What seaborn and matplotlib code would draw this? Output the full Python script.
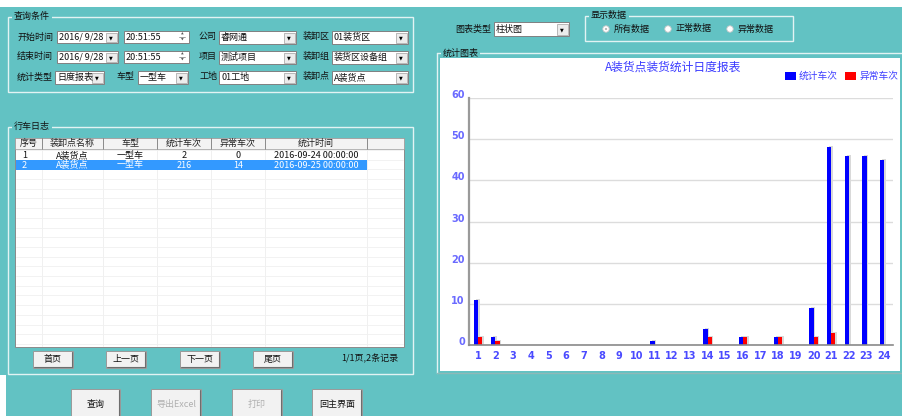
import matplotlib
matplotlib.use("Agg")
import matplotlib.pyplot as plt
import matplotlib.transforms as mtrans
from matplotlib.patches import Rectangle, Circle
from matplotlib.ticker import FixedLocator
import seaborn as sns
import pandas as pd

# chart data (hour of day -> trips)
hours = list(range(1, 25))
total_trips = [11, 2, 0, 0, 0, 0, 0, 0, 0, 0, 1, 0, 0, 4, 0, 2, 0, 2, 0, 9, 48, 46, 46, 45]
abnormal_trips = [2, 1, 0, 0, 0, 0, 0, 0, 0, 0, 0, 0, 0, 2, 0, 2, 0, 2, 0, 2, 3, 0, 0, 0]
series_names = ["统计车次", "异常车次"]
series_colors = ["#0000ff", "#ff0000"]
chart_title = "A装货点装货统计日度报表"
y_ticks = [0, 10, 20, 30, 40, 50, 60]

# log table
table_headers = ["序号", "装卸点名称", "车型", "统计车次", "异常车次", "统计时间"]
table_rows = [
    ["1", "A装货点", "一型车", "2", "0", "2016-09-24 00:00:00"],
    ["2", "A装货点", "一型车", "216", "14", "2016-09-25 00:00:00"],
]

TEAL = "#62c2c3"
FONT = ["Noto Sans CJK SC", "DejaVu Sans"]

sns.set_theme(style="white")
plt.rcParams["font.family"] = FONT

fig = plt.figure(figsize=(9.02, 4.16), dpi=100, facecolor=TEAL)

# background axes in pixel coordinates for the window widgets
bg = fig.add_axes([0, 0, 1, 1])
bg.set_xlim(0, 902)
bg.set_ylim(416, 0)
bg.axis("off")
bg.patch.set_alpha(0)


def rect(x0, y0, x1, y1, fc="none", ec="none", lw=0.7, z=1):
    bg.add_patch(Rectangle((x0, y0), x1 - x0, y1 - y0, facecolor=fc,
                           edgecolor=ec, linewidth=lw, zorder=z))


def label(x, y, s, size=6.5, color="#111111", ha="left", weight="normal", z=5):
    bg.text(x, y, s, fontsize=size, color=color, ha=ha, va="center",
            family=FONT, fontweight=weight, zorder=z)


def group(x0, y0, x1, y1, title):
    rect(x0, y0, x1, y1, ec="#e2f3f3", lw=1.0, z=2)
    w = 9 * len(title) + 4
    rect(x0 + 4, y0 - 4, x0 + 4 + w, y0 + 4, fc=TEAL, z=3)
    label(x0 + 6, y0 - 0.5, title, weight="medium")


def combo(x0, y0, x1, y1, s):
    rect(x0, y0, x1, y1, fc="white", ec="#808080", z=3)
    rect(x1 - 12, y0 + 1.5, x1 - 1.5, y1 - 1.5, fc="#ececec", ec="#a0a0a0", lw=0.5, z=4)
    bg.text(x1 - 6.7, (y0 + y1) / 2 + 0.5, "▼", fontsize=3.5, ha="center", va="center",
            family="DejaVu Sans", color="black", zorder=5)
    label(x0 + 2, (y0 + y1) / 2, s)


def spin(x0, y0, x1, y1, s):
    rect(x0, y0, x1, y1, fc="white", ec="#808080", z=3)
    ym = (y0 + y1) / 2
    bg.text(x1 - 7, ym - 3, "▲", fontsize=2.5, ha="center", va="center",
            family="DejaVu Sans", color="#555555", zorder=5)
    bg.text(x1 - 7, ym + 3, "▼", fontsize=2.5, ha="center", va="center",
            family="DejaVu Sans", color="#555555", zorder=5)
    bg.plot([x1 - 10, x1 - 4], [ym, ym], color="#777777", lw=0.5, zorder=5)
    label(x0 + 2, ym, s)


def button(x0, y0, x1, y1, s, enabled=True):
    rect(x0, y0, x1, y1, fc="#f2f2f2", ec="#9a9a9a", z=3)
    bg.plot([x0 + 1, x1 - 1], [y1 - 1, y1 - 1], color="#6e6e6e", lw=0.8, zorder=4)
    bg.plot([x1 - 1, x1 - 1], [y0 + 1, y1 - 1], color="#6e6e6e", lw=0.8, zorder=4)
    label((x0 + x1) / 2, (y0 + y1) / 2, s, ha="center", weight="medium",
          color="#111111" if enabled else "#b0b0b0")


# top white strip and bottom-left strip
rect(0, 0, 902, 7, fc="white", z=1)
rect(0, 375, 6, 416, fc="white", z=1)

# query conditions
group(8, 17, 413, 92, "查询条件")
rows_y = [37, 57, 77]
label(17, rows_y[0], "开始时间", weight="medium")
combo(57, 31, 118, 43, "2016/ 9/28")
spin(124, 31, 189, 43, "20:51:55")
label(199, rows_y[0], "公司", weight="medium")
combo(219, 31, 296, 44, "睿网通")
label(303, rows_y[0], "装卸区", weight="medium")
combo(332, 31, 408, 44, "01装货区")

label(17, rows_y[1], "结束时间", weight="medium")
combo(57, 51, 118, 63, "2016/ 9/28")
spin(124, 51, 189, 63, "20:51:55")
label(199, rows_y[1], "项目", weight="medium")
combo(219, 51, 296, 64, "测试项目")
label(303, rows_y[1], "装卸组", weight="medium")
combo(332, 51, 408, 64, "装货区设备组")

label(17, rows_y[2], "统计类型", weight="medium")
combo(55, 71, 104, 84, "日度报表")
label(116, rows_y[2], "车型", weight="medium")
combo(138, 71, 188, 84, "一型车")
label(199, rows_y[2], "工地", weight="medium")
combo(219, 71, 296, 84, "01工地")
label(303, rows_y[2], "装卸点", weight="medium")
combo(332, 71, 408, 84, "A装货点")

# log table group
group(8, 127, 413, 374, "行车日志")
cols = [15, 42, 103, 157, 211, 265, 367, 404]
rect(15, 138, 404, 347, fc="white", ec="#8a8a8a", z=3)
rect(15, 138, 404, 149, fc="#f3f3f3", ec="#9a9a9a", lw=0.5, z=3)
for cx in cols[1:-1]:
    bg.plot([cx, cx], [138, 149], color="#8a8a8a", lw=0.7, zorder=4)
    bg.plot([cx, cx], [149, 346], color="#eeeeee", lw=0.6, zorder=3.5)
y = 150.0
while y < 346:
    bg.plot([16, 403], [y, y], color="#f0f0f0", lw=0.6, zorder=3.5)
    y += 9.7
for i, h in enumerate(table_headers):
    label((cols[i] + cols[i + 1]) / 2, 143.5, h, ha="center", color="#222222")
rect(15.5, 160, 367, 170, fc="#3399ff", z=3.6)
for r, row in enumerate(table_rows):
    ry = 155.2 + r * 9.8
    col = "#111111" if r == 0 else "white"
    for i, v in enumerate(row):
        if i == 0:
            label(22, ry, v, color=col)
        else:
            label((cols[i] + cols[i + 1]) / 2, ry, v, ha="center", color=col)

button(33, 351, 73, 368, "首页")
button(106, 351, 146, 368, "上一页")
button(180, 351, 220, 368, "下一页")
button(253, 351, 293, 368, "尾页")
label(398, 359, "1/1页,2条记录", ha="right", weight="medium")

button(71, 389, 120, 420, "查询")
button(151, 389, 201, 420, "导出Excel", enabled=False)
button(232, 389, 282, 420, "打印", enabled=False)
button(312, 389, 362, 420, "回主界面")

# chart type / display data
label(455, 29, "图表类型", weight="medium")
combo(494, 22, 569, 36, "柱状图")
group(585, 16, 793, 41, "显示数据")
for rx, txt, on in [(606, "所有数据", True), (668, "正常数据", False), (730, "异常数据", False)]:
    bg.add_patch(Circle((rx, 29), 3.2, facecolor="white", edgecolor="#c8c8c8", lw=0.6, zorder=4))
    if on:
        bg.add_patch(Circle((rx, 29), 1.3, facecolor="black", zorder=5))
    label(rx + 8, 29, txt, weight="medium")

# chart group
bg.plot([437, 902], [53, 53], color="#e2f3f3", lw=1.0, zorder=2)
bg.plot([437, 437], [53, 373], color="#e2f3f3", lw=1.0, zorder=2)
bg.plot([437, 902], [372.5, 372.5], color="#8fb8b8", lw=1.0, zorder=2)
rect(441, 51, 480, 57, fc=TEAL, z=3)
label(443, 53.5, "统计图表", weight="medium")
rect(440, 58, 900, 371, fc="white", z=2)
label(673, 67, chart_title, size=8.5, color="#3a3aff", ha="center", weight="medium")
for (lx, name, c) in [(785, series_names[0], series_colors[0]), (845, series_names[1], series_colors[1])]:
    rect(lx, 72, lx + 11, 80, fc=c, z=5)
    label(lx + 14, 76, name, size=7, color="#4040ff")

# bar chart
df = pd.DataFrame({
    "hour": hours * 2,
    "series": [series_names[0]] * 24 + [series_names[1]] * 24,
    "count": total_trips + abnormal_trips,
})
ax = fig.add_axes([469 / 902, 1 - 345 / 416, (893 - 469) / 902, (345 - 98) / 416])
ax.patch.set_alpha(0)
sns.barplot(data=df, x="hour", y="count", hue="series", hue_order=series_names,
            palette=series_colors, width=0.46, saturation=1, linewidth=0,
            ax=ax, legend=False)

# soft drop shadows to the right of each bar
for p in list(ax.patches):
    if p.get_height() > 0:
        ax.add_patch(Rectangle((p.get_x() + 0.1, 0), p.get_width(), p.get_height() + 0.25,
                               facecolor="#d9d9d9", edgecolor="none", zorder=0.9))

ax.set_xlim(-0.5, 23.5)
ax.set_ylim(0, 60)
ax.set_yticks(y_ticks)
ax.yaxis.grid(True, color="#dcdcdc", lw=1.0)
ax.set_axisbelow(True)
ax.set_xlabel("")
ax.set_ylabel("")
for s in ["top", "right"]:
    ax.spines[s].set_visible(False)
ax.spines["left"].set_color("#9a9a9a")
ax.spines["left"].set_linewidth(1.6)
ax.spines["bottom"].set_color("#8a8a8a")
ax.spines["bottom"].set_linewidth(1.2)
ax.tick_params(axis="x", length=0, pad=4, labelsize=7, labelcolor="#4a4aff")
ax.tick_params(axis="y", length=0, pad=3, labelsize=7, labelcolor="#6a6aff")
ax.xaxis.set_minor_locator(FixedLocator([i + 0.5 for i in range(-1, 24)]))
ax.tick_params(axis="x", which="minor", length=3, color="#bbbbbb", width=0.7)
for t in ax.get_xticklabels() + ax.get_yticklabels():
    t.set_family("DejaVu Sans")
    t.set_fontweight("bold")
off = mtrans.ScaledTranslation(0, 4 / 100, fig.dpi_scale_trans)
for t in ax.get_yticklabels():
    t.set_transform(t.get_transform() + off)

fig.savefig("out.png", dpi=100, facecolor=TEAL)
